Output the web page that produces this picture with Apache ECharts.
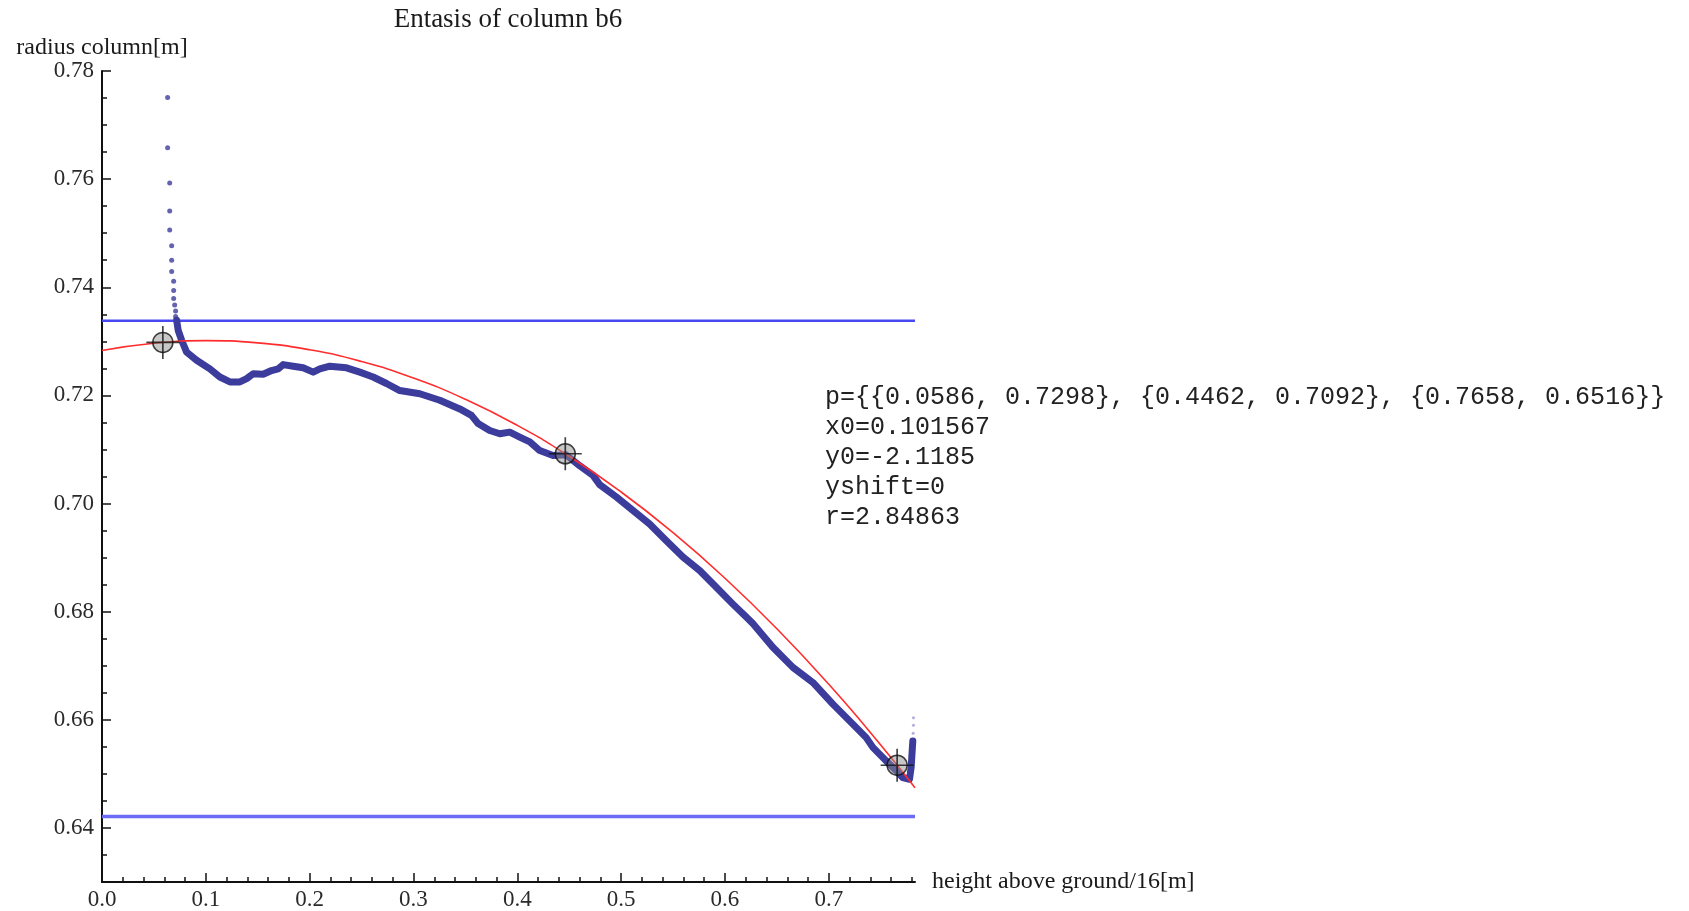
<!DOCTYPE html>
<html><head><meta charset="utf-8">
<script src="https://cdn.jsdelivr.net/npm/echarts@6/dist/echarts.min.js"></script>
<style>html,body{margin:0;padding:0;background:#fff}#c{width:1689px;height:911px}</style>
</head><body><div id="c"></div>
<script>
const titleText = 'Entasis of column b6';
const xName = 'height above ground/16[m]';
const yName = 'radius column[m]';
const xTicks = [0, 0.1, 0.2, 0.3, 0.4, 0.5, 0.6, 0.7];
const xMinorTicks = [0.02,0.04,0.06,0.08,0.12,0.14,0.16,0.18,0.22,0.24,0.26,0.28,0.32,0.34,0.36,0.38,0.42,0.44,0.46,0.48,0.52,0.54,0.56,0.58,0.62,0.64,0.66,0.68,0.72,0.74,0.76,0.78];
const yTicks = [0.64, 0.66, 0.68, 0.70, 0.72, 0.74, 0.76, 0.78];
const yMinorTicks = [0.635,0.645,0.65,0.655,0.665,0.67,0.675,0.685,0.69,0.695,0.705,0.71,0.715,0.725,0.73,0.735,0.745,0.75,0.755,0.765,0.77,0.775];

// sparse measured points at the top of the profile
const spikeDots = [[0.0632,0.7751],[0.0632,0.7658],[0.0652,0.7593],[0.0652,0.7541],[0.0652,0.7506],[0.0671,0.7477],[0.0671,0.7450],[0.0671,0.7429],[0.0690,0.7411],[0.0690,0.7394],[0.0690,0.7379],[0.0700,0.7367],[0.0709,0.7356],[0.0709,0.7346]];
// dense measured radius profile
const profile = [[0.0719,0.7339],[0.0734,0.7320],[0.0767,0.7302],[0.0815,0.7280],[0.0911,0.7265],[0.1039,0.7249],[0.1135,0.7234],[0.1232,0.7225],[0.1328,0.7225],[0.1393,0.7231],[0.1456,0.7240],[0.1552,0.7239],[0.1633,0.7246],[0.1697,0.7249],[0.1745,0.7257],[0.1841,0.7254],[0.1937,0.7251],[0.2034,0.7243],[0.2098,0.7249],[0.2194,0.7254],[0.2355,0.7251],[0.2483,0.7243],[0.2611,0.7234],[0.2740,0.7222],[0.2868,0.7209],[0.3061,0.7203],[0.3253,0.7191],[0.3446,0.7175],[0.3558,0.7163],[0.3622,0.7148],[0.3734,0.7135],[0.3831,0.7129],[0.3927,0.7132],[0.4023,0.7123],[0.4120,0.7114],[0.4216,0.7098],[0.4344,0.7089],[0.4470,0.7090],[0.4600,0.7070],[0.4729,0.7052],[0.4793,0.7035],[0.4954,0.7012],[0.5114,0.6987],[0.5274,0.6962],[0.5435,0.6931],[0.5595,0.6901],[0.5756,0.6876],[0.5916,0.6845],[0.6076,0.6814],[0.6205,0.6790],[0.6268,0.6778],[0.6461,0.6734],[0.6654,0.6697],[0.6846,0.6669],[0.7039,0.6629],[0.7231,0.6592],[0.7360,0.6567],[0.7424,0.6549],[0.7552,0.6524],[0.7649,0.6506],[0.7712,0.6493],[0.7777,0.6490],[0.7793,0.6512],[0.7803,0.6543],[0.7809,0.6561]];
const endDots = [[0.7812,0.6575],[0.7815,0.6590],[0.7815,0.6604]];
// fitted circle
const fitCurve = [[0,0.72832],[0.05,0.72966],[0.1,0.73013],[0.15,0.72972],[0.2,0.72843],[0.25,0.72626],[0.3,0.72321],[0.35,0.71928],[0.4,0.71445],[0.45,0.70874],[0.5,0.70213],[0.55,0.69461],[0.6,0.68618],[0.65,0.67684],[0.7,0.66656],[0.75,0.65535],[0.783,0.64743]];
const fitPoints = [[0.0586,0.7298],[0.4462,0.7092],[0.7658,0.6516]];
const bandLevels = [0.7338, 0.6421];
const xRange = [0, 0.783];
const yRange = [0.63, 0.78];
const annotation = ['p={{0.0586, 0.7298}, {0.4462, 0.7092}, {0.7658, 0.6516}}','x0=0.101567','y0=-2.1185','yshift=0','r=2.84863'];

const serif = '"Liberation Serif", "Times New Roman", serif';
const chart = echarts.init(document.getElementById('c'), null, {renderer: 'canvas'});
const tickLine = {color: '#111', width: 1.5};
const option = {
  animation: false,
  backgroundColor: '#fff',
  grid: {left: 102, top: 71, right: 774, bottom: 28, containLabel: false},
  xAxis: [{
    type: 'value', min: xRange[0], max: xRange[1],
    name: xName, nameLocation: 'end', nameGap: 17,
    nameTextStyle: {fontFamily: serif, fontSize: 24, color: '#1a1a1a', align: 'left', verticalAlign: 'middle'},
    axisLine: {show: true, lineStyle: {color: '#111', width: 2}},
    axisTick: {show: true, inside: true, length: 9, customValues: xTicks, lineStyle: tickLine},
    axisLabel: {show: true, customValues: xTicks, margin: 6, fontFamily: serif, fontSize: 23, color: '#2a2a2a', formatter: v => v.toFixed(1)},
    splitLine: {show: false}
  }, {
    type: 'value', min: xRange[0], max: xRange[1], position: 'bottom', offset: 0,
    axisLine: {show: false},
    axisTick: {show: true, inside: true, length: 5, customValues: xMinorTicks, lineStyle: tickLine},
    axisLabel: {show: false}, splitLine: {show: false}
  }],
  yAxis: [{
    type: 'value', min: yRange[0], max: yRange[1],
    name: yName, nameLocation: 'end', nameGap: 23,
    nameTextStyle: {fontFamily: serif, fontSize: 24, color: '#1a1a1a', align: 'center', verticalAlign: 'middle'},
    axisLine: {show: true, lineStyle: {color: '#111', width: 2}},
    axisTick: {show: true, inside: true, length: 9, customValues: yTicks, lineStyle: tickLine},
    axisLabel: {show: true, customValues: yTicks, margin: 8, fontFamily: serif, fontSize: 23, color: '#2a2a2a', formatter: v => v.toFixed(2)},
    splitLine: {show: false}
  }, {
    type: 'value', min: yRange[0], max: yRange[1], position: 'left', offset: 0,
    axisLine: {show: false},
    axisTick: {show: true, inside: true, length: 5, customValues: yMinorTicks, lineStyle: tickLine},
    axisLabel: {show: false}, splitLine: {show: false}
  }],
  series: [
    {type: 'line', data: [[xRange[0], bandLevels[0]], [xRange[1], bandLevels[0]]], symbol: 'none', lineStyle: {color: '#4848f2', width: 2.5}, z: 1},
    {type: 'line', data: [[xRange[0], bandLevels[1]], [xRange[1], bandLevels[1]]], symbol: 'none', lineStyle: {color: '#6b6bf5', width: 3.5}, z: 1},
    {type: 'line', data: profile, symbol: 'none', lineStyle: {color: '#3c3c9c', width: 7, cap: 'round', join: 'round'}, z: 2},
    {type: 'scatter', data: spikeDots, symbol: 'circle', symbolSize: 5, itemStyle: {color: '#3c3c9c'}, z: 2},
    {type: 'scatter', data: endDots, symbol: 'circle', symbolSize: 3, itemStyle: {color: '#8c8cd0', opacity: 0.7}, z: 2},
    {type: 'line', data: fitCurve, symbol: 'none', smooth: true, lineStyle: {color: '#ff2d2d', width: 1.6}, z: 3},
    {type: 'scatter', data: fitPoints, symbol: 'circle', symbolSize: 20, itemStyle: {color: 'rgba(140,140,140,0.6)', borderColor: '#111', borderWidth: 1.5}, z: 4},
    {type: 'scatter', data: fitPoints, symbol: 'path://M0,15.2H32V16.8H0ZM15.2,0H16.8V32H15.2Z', symbolSize: 33, itemStyle: {color: '#111'}, z: 5}
  ],
  graphic: [
    {type: 'text', x: 508, y: 20, style: {text: titleText, fontFamily: serif, fontSize: 27, fill: '#1a1a1a', align: 'center', verticalAlign: 'middle'}},
    {type: 'text', x: 825, y: 382, style: {text: annotation.join('\n'), fontFamily: '"Liberation Mono", "Courier New", monospace', fontSize: 25, lineHeight: 30, fill: '#222', align: 'left', verticalAlign: 'top'}}
  ]
};
chart.setOption(option);
</script>
</body></html>
